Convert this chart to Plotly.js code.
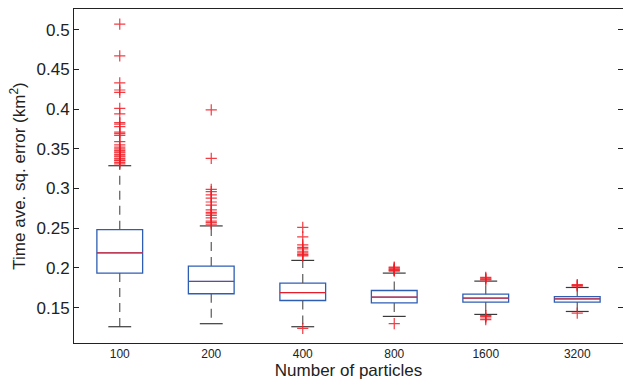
<!DOCTYPE html>
<html>
<head>
<meta charset="utf-8">
<script src="https://cdn.plot.ly/plotly-3.0.1.min.js"></script>
<style>html,body{margin:0;padding:0;background:#fff;}#chart{width:623px;height:381px;}</style>
</head>
<body>
<div id="chart"></div>
<script>
// ---- data ----
const categories = ['100', '200', '400', '800', '1600', '3200'];
const q1Values     = [0.1935, 0.1675, 0.159, 0.156, 0.157, 0.157];
const medianValues = [0.219, 0.183, 0.169, 0.1633, 0.162, 0.161];
const q3Values     = [0.2482, 0.2023, 0.181, 0.1716, 0.167, 0.164];
const lowerWhisker = [0.126, 0.1298, 0.126, 0.139, 0.1415, 0.1452];
const upperWhisker = [0.3287, 0.2529, 0.2095, 0.1935, 0.1834, 0.1754];
const outliers100  = [0.507, 0.467, 0.433, 0.424, 0.421, 0.401, 0.394, 0.383, 0.381, 0.378, 0.371, 0.369, 0.367, 0.359, 0.355, 0.352, 0.350, 0.348, 0.346, 0.345, 0.343, 0.341, 0.340, 0.338, 0.336, 0.335, 0.333, 0.331];
const outliers200  = [0.399, 0.338, 0.299, 0.296, 0.292, 0.288, 0.283, 0.279, 0.273, 0.270, 0.268, 0.266, 0.263, 0.259, 0.257, 0.255];
const outliers400  = [0.251, 0.239, 0.229, 0.226, 0.224, 0.221, 0.219, 0.217, 0.216, 0.215, 0.124];
const outliers800  = [0.201, 0.200, 0.199, 0.198, 0.197, 0.196, 0.130];
const outliers1600 = [0.188, 0.187, 0.186, 0.185, 0.140, 0.139, 0.137, 0.135];
const outliers3200 = [0.179, 0.178, 0.177, 0.143];
const outlierSets  = [outliers100, outliers200, outliers400, outliers800, outliers1600, outliers3200];
const yTicks = [0.15, 0.2, 0.25, 0.3, 0.35, 0.4, 0.45, 0.5];

// ---- styling ----
const BOX_W = 0.5, CAP_HALF = 0.125;
const BLUE = '#2e5eb4', RED = '#f01c24', WHISK = '#5a5a5a', CAP = '#3a3a3a';
const positions = categories.map((c, i) => i + 1);

const traces = [];
// box bodies
traces.push({
  type: 'box', x: positions, q1: q1Values, median: medianValues, q3: q3Values,
  lowerfence: q1Values, upperfence: q3Values, width: BOX_W,
  boxpoints: false, fillcolor: 'rgba(0,0,0,0)',
  line: {color: BLUE, width: 1.3}, whiskerwidth: 0, hoverinfo: 'skip', showlegend: false
});
// whiskers (dashed)
const wx = [], wy = [];
positions.forEach((p, i) => {
  wx.push(p, p, null, p, p, null);
  wy.push(q3Values[i], upperWhisker[i], null, q1Values[i], lowerWhisker[i], null);
});
traces.push({type: 'scatter', mode: 'lines', x: wx, y: wy,
  line: {color: WHISK, width: 1.2, dash: '9px,6px'}, hoverinfo: 'skip', showlegend: false});
// caps
const cx = [], cy = [];
positions.forEach((p, i) => {
  cx.push(p - CAP_HALF, p + CAP_HALF, null, p - CAP_HALF, p + CAP_HALF, null);
  cy.push(upperWhisker[i], upperWhisker[i], null, lowerWhisker[i], lowerWhisker[i], null);
});
traces.push({type: 'scatter', mode: 'lines', x: cx, y: cy,
  line: {color: CAP, width: 1.2}, hoverinfo: 'skip', showlegend: false});
// medians
const mx = [], my = [];
positions.forEach((p, i) => {
  mx.push(p - BOX_W / 2, p + BOX_W / 2, null);
  my.push(medianValues[i], medianValues[i], null);
});
traces.push({type: 'scatter', mode: 'lines', x: mx, y: my,
  line: {color: RED, width: 1}, hoverinfo: 'skip', showlegend: false});
// outliers
const ox = [], oy = [];
outlierSets.forEach((set, i) => set.forEach(v => { ox.push(positions[i]); oy.push(v); }));
traces.push({type: 'scatter', mode: 'markers', x: ox, y: oy,
  marker: {symbol: 'cross-thin', size: 8, color: RED, line: {color: RED, width: 1.2}, opacity: 0.85},
  hoverinfo: 'skip', showlegend: false});

const layout = {
  width: 623, height: 381,
  margin: {l: 74, r: 0, t: 9, b: 38},
  paper_bgcolor: '#fff', plot_bgcolor: '#fff',
  font: {family: 'Liberation Sans, Arial, sans-serif', color: '#222'},
  showlegend: false,
  xaxis: {
    range: [0.5, 6.5], tickvals: positions, ticktext: categories,
    ticks: '', showline: true, mirror: true, linecolor: '#222', linewidth: 1,
    showgrid: false, zeroline: false, tickfont: {size: 12},
    title: {text: 'Number of particles', font: {size: 17}, standoff: 3}
  },
  yaxis: {
    range: [0.1055, 0.526], tickvals: yTicks,
    ticks: 'inside', ticklen: 5, tickcolor: '#222', showline: true, mirror: 'ticks',
    linecolor: '#222', linewidth: 1, showgrid: false, zeroline: false,
    tickfont: {size: 17},
    title: {text: 'Time ave. sq. error (km<sup>2</sup>)', font: {size: 17}, standoff: 6}
  }
};
Plotly.newPlot('chart', traces, layout, {staticPlot: true, displayModeBar: false});
</script>
</body>
</html>
